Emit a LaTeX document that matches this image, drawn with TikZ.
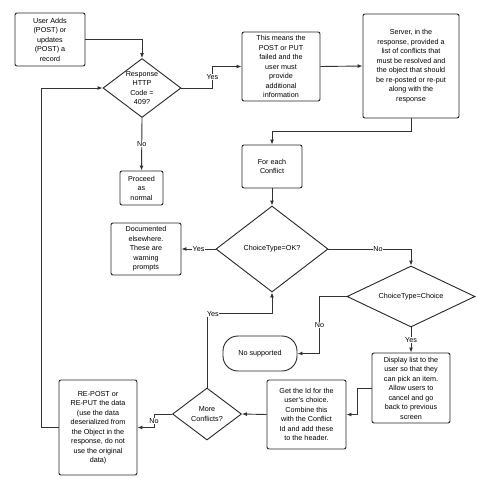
\documentclass[tikz,border=0pt]{standalone}
\usepackage{fontspec}
\setmainfont{Liberation Sans}
\usepackage{tikz}
\usetikzlibrary{arrows.meta,calc,shapes.geometric}

\begin{document}
\begin{tikzpicture}[x=1pt,y=-1pt,line width=0.9pt,
    every node/.style={font=\fontsize{7.2}{9.5}\selectfont},
    box/.style={draw=black!85,rounded corners=2pt,align=center,inner sep=0pt},
    decision/.style={draw=black!85,diamond,inner sep=0pt},
    flow/.style={draw=black!80,-{Latex[length=5pt,width=4pt]}},
    tag/.style={fill=white,inner sep=0.6pt}]
    \useasboundingbox (0,0) rectangle (478,477);
    \node[box,minimum width=70pt,minimum height=53pt] (user) at (50,39.5)
      {User Adds\\(POST) or\\updates\\(POST) a\\record};
    \node[decision,minimum width=78pt,minimum height=59pt,
      label={[align=center]center:Response\\HTTP\\Code =\\409?}] (http) at (142,88) {};
    \node[box,minimum width=43pt,minimum height=34pt] (proceed) at (141.5,188)
      {Proceed\\as\\normal};
    \node[box,minimum width=78pt,minimum height=69pt] (means) at (281,66.5)
      {This means the\\POST or PUT\\failed and the\\user must\\provide\\additional\\information};
    \node[box,minimum width=96pt,minimum height=104pt] (server) at (411,66)
      {Server, in the\\response, provided a\\list of conflicts that\\must be resolved and\\the object that should\\be re-posted or re-put\\along with the\\response};
    \node[box,minimum width=60pt,minimum height=43pt] (foreach) at (272,166.5)
      {For each\\Conflict};
    \node[decision,minimum width=112pt,minimum height=86pt,
      label={center:ChoiceType=OK?}] (ok) at (272,249) {};
    \node[box,minimum width=70pt,minimum height=52pt] (documented) at (146,249)
      {Documented\\elsewhere.\\These are\\warning\\prompts};
    \node[decision,minimum width=128pt,minimum height=61pt,
      label={center:ChoiceType=Choice}] (choice) at (411,296.5) {};
    \node[box,rounded corners=15pt,minimum width=74pt,minimum height=35pt] (nosupp) at (260,353.5)
      {No supported};
    \node[box,minimum width=78pt,minimum height=70pt] (display) at (411,388)
      {Display list to the\\user so that they\\can pick an item.\\Allow users to\\cancel and go\\back to previous\\screen};
    \node[box,minimum width=79pt,minimum height=69pt] (getid) at (306.5,414.5)
      {Get the Id for the\\user's choice.\\Combine this\\with the Conflict\\Id and add these\\to the header.};
    \node[decision,minimum width=69pt,minimum height=52pt,
      label={[align=center]center:More\\Conflicts?}] (more) at (207,414) {};
    \node[box,minimum width=78pt,minimum height=95pt] (repost) at (98,427.5)
      {RE-POST or\\RE-PUT the data\\(use the data\\deserialized from\\the Object in the\\response, do not\\use the original\\data)};

    \draw[flow] (user.east) -| (http.north);
    \draw[flow] (http.east) -- ++(31,0) |- (means.west) node[tag,pos=0.25] {Yes};
    \draw[flow] (http.south) -- (proceed.north) node[tag,midway] {No};
    \draw[flow] (means.east) -- (server.west);
    \draw[flow] (server.south) -- ++(0,13) -| (foreach.north);
    \draw[flow] (foreach.south) -- (ok.north);
    \draw[flow] (ok.west) -- (documented.east) node[tag,midway] {Yes};
    \draw[flow] (ok.east) -| (choice.north) node[tag,pos=0.3] {No};
    \draw[flow] (choice.west) -- ++(-27,0) |- (nosupp.east) node[tag,pos=0.25] {No};
    \draw[flow] (choice.south) -- (display.north) node[tag,midway] {Yes};
    \draw[flow] (display.west) -- ++(-14,0) |- (getid.east);
    \draw[flow] (getid.west) -- (more.east);
    \draw[flow] (more.north) -- ++(0,-74) node[tag,anchor=west,xshift=-1pt] {Yes} -| (ok.south);
    \draw[flow] (more.west) -- ++(-18,0) |- (repost.east) node[tag,pos=0.25] {No};
    \draw[flow] (repost.west) -- ++(-17,0) |- (http.west);
  \end{tikzpicture}
\end{document}
